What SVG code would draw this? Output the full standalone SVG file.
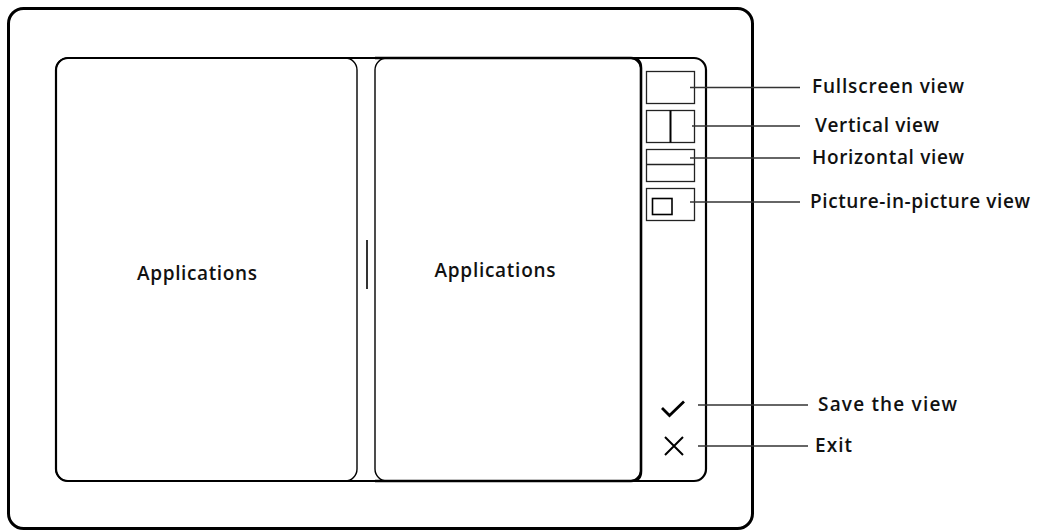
<svg xmlns="http://www.w3.org/2000/svg" width="1038" height="532" viewBox="0 0 1038 532">
<style>
.frame{fill:none;stroke:#000;}
.btn{fill:#fff;stroke:#222;stroke-width:1.3;}
.conn{stroke:#333;stroke-width:1.3;fill:none;}
.lbl{font-family:"Open Sans","Liberation Sans",sans-serif;font-weight:600;font-size:19px;fill:#111;}
</style>
<rect width="1038" height="532" fill="#fff"/>
<g id="device">
<rect class="frame" x="8.5" y="8.5" width="744" height="520" rx="15" stroke-width="3"/>
</g>
<g id="screen">
<rect class="frame" x="56" y="58" width="650" height="423" rx="12" stroke-width="2.2"/>
</g>
<g id="left-panel">
<rect class="frame" x="56" y="58" width="301" height="423" rx="12" stroke-width="1.4"/>
<text class="lbl" x="197" y="280" text-anchor="middle" textLength="120">Applications</text>
</g>
<g id="divider">
<line x1="367" y1="240" x2="367" y2="289" stroke="#000" stroke-width="1.6"/>
</g>
<g id="right-panel">
<rect class="frame" x="375" y="58" width="266" height="423" rx="12" stroke-width="1.4"/>
<path class="frame" d="M375 58 H631 Q641 58 641 68 V471 Q641 481 631 481 H375" stroke-width="2.6"/>
<text class="lbl" x="495" y="277" text-anchor="middle" textLength="121">Applications</text>
</g>
<g id="btn-fullscreen">
<rect class="btn" x="646.5" y="71.5" width="48" height="32"/>
</g>
<g id="btn-vertical">
<rect class="btn" x="646.5" y="110.5" width="48" height="32"/>
<line x1="670.5" y1="110.5" x2="670.5" y2="142.5" stroke="#000" stroke-width="2"/>
</g>
<g id="btn-horizontal">
<rect class="btn" x="646.5" y="149.5" width="48" height="32"/>
<line x1="646.5" y1="164.5" x2="694.5" y2="164.5" stroke="#222" stroke-width="1.3"/>
</g>
<g id="btn-pip">
<rect class="btn" x="646.5" y="188.5" width="48" height="32"/>
<rect x="652.5" y="198.5" width="19.5" height="16" fill="none" stroke="#000" stroke-width="1.6"/>
</g>
<g id="btn-save">
<path d="M662 408 L669.5 415.5 L684 401.5" fill="none" stroke="#000" stroke-width="2.8"/>
</g>
<g id="btn-exit">
<path d="M665 437 L683 455 M683 437 L665 455" fill="none" stroke="#000" stroke-width="2"/>
</g>
<g id="connectors">
<line class="conn" x1="690" y1="87.5" x2="800" y2="87.5"/>
<line class="conn" x1="692" y1="126" x2="800" y2="126"/>
<line class="conn" x1="690" y1="158" x2="800" y2="158"/>
<line class="conn" x1="690" y1="202" x2="800" y2="202"/>
<line class="conn" x1="698" y1="405" x2="808" y2="405"/>
<line class="conn" x1="698" y1="446" x2="808" y2="446"/>
</g>
<g id="labels">
<text class="lbl" x="812" y="93" textLength="152">Fullscreen view</text>
<text class="lbl" x="815" y="132" textLength="124">Vertical view</text>
<text class="lbl" x="812" y="164" textLength="152">Horizontal view</text>
<text class="lbl" x="810" y="208" textLength="220">Picture-in-picture view</text>
<text class="lbl" x="818" y="411" textLength="139">Save the view</text>
<text class="lbl" x="815" y="452" textLength="37">Exit</text>
</g>
</svg>
